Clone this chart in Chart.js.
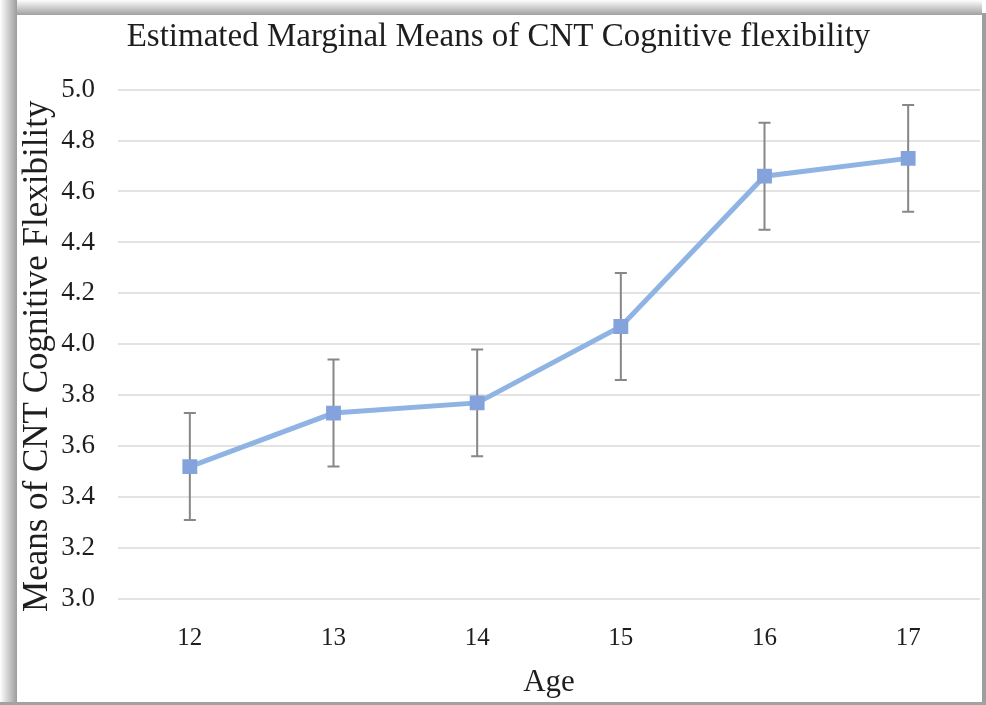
<!DOCTYPE html>
<html>
<head>
<meta charset="utf-8">
<script src="https://cdn.jsdelivr.net/npm/chart.js@4.4.1/dist/chart.umd.min.js"></script>
<style>
  html, body { margin: 0; padding: 0; background: #ffffff; }
  #page { position: relative; width: 986px; height: 705px; overflow: hidden; }
  #edgeLeft { position: absolute; left: 0; top: 0; width: 17px; height: 702px;
    background: linear-gradient(to right, #ffffff, #dcdcdc 35%, #9c9c9c); }
  #edgeTop { position: absolute; left: 0; top: 0; width: 982px; height: 15px;
    background: linear-gradient(to bottom, #ffffff, #d8d8d8 40%, #a0a0a0); }
  #edgeRight { position: absolute; left: 982px; top: 13px; width: 4px; height: 692px; background: #9e9e9e; }
  #edgeBottom { position: absolute; left: 0; top: 702px; width: 986px; height: 3px; background: #a2a2a2; }
  #panel { position: absolute; left: 17px; top: 15px; width: 965px; height: 687px; background: #ffffff; }
</style>
</head>
<body>
<div id="page">
  <div id="edgeTop"></div>
  <div id="edgeLeft"></div>
  <div id="edgeRight"></div>
  <div id="edgeBottom"></div>
  <div id="panel"><canvas id="chart" width="965" height="687"></canvas></div>
</div>
<script>
// Age groups and estimated marginal means with their error-bar limits
const ages = ['12', '13', '14', '15', '16', '17'];
const means = [3.52, 3.73, 3.77, 4.07, 4.66, 4.73];
const lowerLimits = [3.31, 3.52, 3.56, 3.86, 4.45, 4.52];
const upperLimits = [3.73, 3.94, 3.98, 4.28, 4.87, 4.94];
const yTicks = [3.0, 3.2, 3.4, 3.6, 3.8, 4.0, 4.2, 4.4, 4.6, 4.8, 5.0];

const serif = '"Liberation Serif", "Times New Roman", serif';
const textColor = '#1e1e1e';
const yTitleText = 'Means of CNT Cognitive Flexibility';

// Vertical whiskers with caps, drawn underneath the line and markers
const errorBars = {
  id: 'errorBars',
  beforeDatasetsDraw(chart) {
    const { ctx, scales: { x, y } } = chart;
    ctx.save();
    ctx.strokeStyle = '#878787';
    ctx.lineWidth = 2;
    const cap = 6;
    ages.forEach((a, i) => {
      const px = x.getPixelForValue(i);
      const top = y.getPixelForValue(upperLimits[i]);
      const bot = y.getPixelForValue(lowerLimits[i]);
      ctx.beginPath();
      ctx.moveTo(px, top); ctx.lineTo(px, bot);
      ctx.moveTo(px - cap, top); ctx.lineTo(px + cap, top);
      ctx.moveTo(px - cap, bot); ctx.lineTo(px + cap, bot);
      ctx.stroke();
    });
    ctx.restore();
  }
};

// Rotated y-axis caption placed in the left margin, a little below the plot's middle
const yCaption = {
  id: 'yCaption',
  afterDraw(chart) {
    const { ctx, chartArea } = chart;
    ctx.save();
    ctx.translate(21, (chartArea.top + chartArea.bottom) / 2 + 12);
    ctx.rotate(-Math.PI / 2);
    ctx.font = '35px ' + serif;
    ctx.fillStyle = textColor;
    ctx.textAlign = 'center';
    ctx.textBaseline = 'middle';
    ctx.fillText(yTitleText, 0, 0);
    ctx.restore();
  }
};

new Chart(document.getElementById('chart'), {
  type: 'line',
  data: {
    labels: ages,
    datasets: [{
      data: means,
      borderColor: '#8fb4e3',
      borderWidth: 5,
      pointStyle: 'rect',
      pointRadius: 10.5,
      pointBackgroundColor: '#84a3dc',
      pointBorderWidth: 0,
      tension: 0
    }]
  },
  options: {
    responsive: false,
    animation: false,
    events: [],
    layout: { autoPadding: false, padding: { top: 3, right: 2, left: 0, bottom: 1 } },
    plugins: {
      legend: { display: false },
      tooltip: { enabled: false },
      title: {
        display: true,
        text: 'Estimated Marginal Means of CNT Cognitive flexibility',
        color: textColor,
        font: { family: serif, size: 33, weight: 'normal', lineHeight: 1.2 },
        padding: { top: 0, bottom: 32 }
      }
    },
    scales: {
      x: {
        offset: true,
        grid: { display: false, drawTicks: false },
        border: { display: false },
        ticks: { color: textColor, font: { family: serif, size: 25 }, padding: 24 },
        title: {
          display: true, text: 'Age', color: textColor,
          font: { family: serif, size: 31 }, padding: { top: 14, bottom: 0 }
        },
        afterFit(scale) {
          scale.height = 102;
          scale.paddingLeft = 0;
          scale.paddingRight = 0;
        }
      },
      y: {
        min: 3.0, max: 5.0,
        afterBuildTicks(scale) { scale.ticks = yTicks.map(v => ({ value: v })); },
        grid: { color: '#e3e3e3', lineWidth: 2, drawTicks: false },
        border: { display: false },
        ticks: {
          color: textColor, font: { family: serif, size: 27 }, padding: 23,
          callback: v => Number(v).toFixed(1)
        },
        title: { display: false },
        afterFit(scale) { scale.width = 101; }
      }
    }
  },
  plugins: [errorBars, yCaption]
});
</script>
</body>
</html>
